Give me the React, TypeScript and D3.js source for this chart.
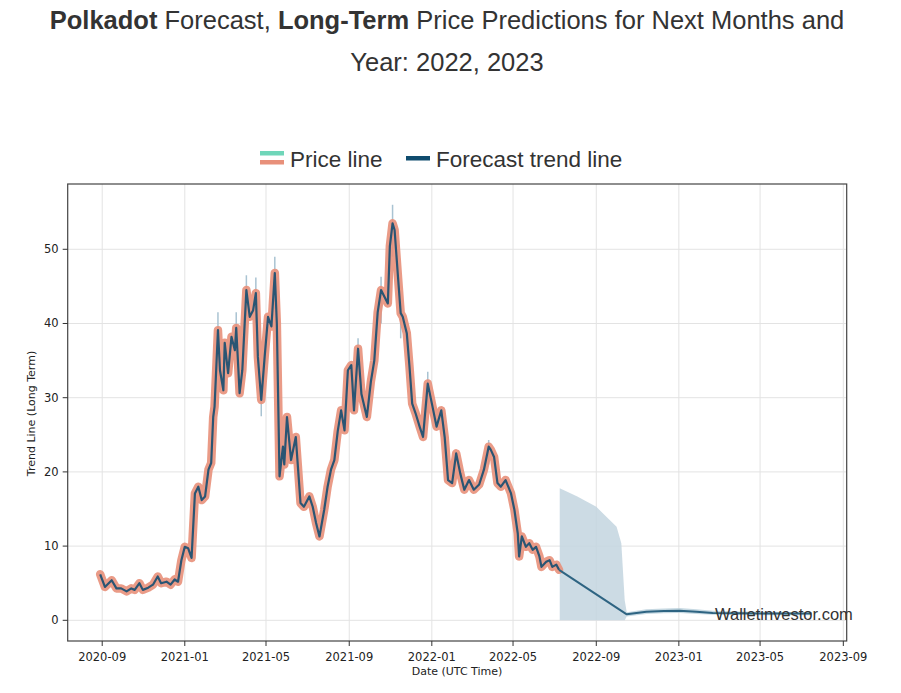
import React from "react";
import * as d3 from "d3";

const priceDates = [
  "2020-08-29","2020-09-05","2020-09-15","2020-09-22","2020-09-29","2020-10-07","2020-10-14","2020-10-19","2020-10-26","2020-10-31",
  "2020-11-08","2020-11-15","2020-11-22","2020-11-27","2020-12-05","2020-12-11","2020-12-17","2020-12-22","2020-12-27","2021-01-01",
  "2021-01-06","2021-01-11","2021-01-16","2021-01-21","2021-01-26","2021-01-31","2021-02-05","2021-02-09","2021-02-12","2021-02-14",
  "2021-02-19","2021-02-22","2021-02-27","2021-03-01","2021-03-06","2021-03-11","2021-03-16","2021-03-18","2021-03-23","2021-03-27",
  "2021-04-02","2021-04-07","2021-04-12","2021-04-16","2021-04-19","2021-04-24","2021-04-29","2021-05-04","2021-05-09","2021-05-14",
  "2021-05-17","2021-05-21","2021-05-26","2021-05-28","2021-06-01","2021-06-07","2021-06-14","2021-06-21","2021-06-26","2021-07-04",
  "2021-07-09","2021-07-14","2021-07-19","2021-07-26","2021-07-31","2021-08-05","2021-08-10","2021-08-15","2021-08-20","2021-08-25",
  "2021-08-30","2021-09-04","2021-09-08","2021-09-14","2021-09-19","2021-09-27","2021-10-03","2021-10-08","2021-10-13","2021-10-18",
  "2021-10-23","2021-10-28","2021-10-31","2021-11-04","2021-11-07","2021-11-12","2021-11-16","2021-11-19","2021-11-25","2021-11-29",
  "2021-12-03","2021-12-08","2021-12-14","2021-12-19","2021-12-26","2022-01-02","2022-01-08","2022-01-15","2022-01-20","2022-01-25",
  "2022-01-31","2022-02-06","2022-02-12","2022-02-18","2022-02-25","2022-03-04","2022-03-12","2022-03-19","2022-03-26","2022-03-29",
  "2022-04-03","2022-04-08","2022-04-13","2022-04-20","2022-04-28","2022-05-03","2022-05-08","2022-05-10","2022-05-14","2022-05-20",
  "2022-05-25","2022-05-30","2022-06-04","2022-06-09","2022-06-12","2022-06-19","2022-06-24","2022-06-28","2022-07-04","2022-07-08"
];
const priceValues = [
  6.2,4.5,5.4,4.3,4.3,3.9,4.3,4.1,5.0,4.1,
  4.4,4.8,5.9,5.0,5.2,4.8,5.5,5.2,8.1,9.9,
  9.7,8.4,17.1,18.0,16.2,16.7,20.3,21.2,27.4,28.8,
  39.1,33.7,31.0,37.4,33.3,38.2,36.4,39.4,30.6,33.7,
  44.5,40.9,41.8,44.1,35.5,29.7,35.5,40.9,39.6,46.8,
  40.0,19.4,23.4,21.0,27.4,21.6,24.7,15.8,15.3,16.7,
  15.3,13.1,11.3,14.9,18.0,20.3,21.6,25.5,28.3,25.6,
  33.7,34.4,28.3,36.6,30.5,27.4,32.2,35.0,41.5,44.5,
  43.6,42.7,50.4,53.5,52.6,46.3,41.4,40.9,38.7,34.2,
  29.2,27.9,26.1,24.7,31.9,28.8,26.1,28.3,24.7,18.9,
  18.5,22.5,19.8,17.6,18.9,17.6,18.3,20.3,23.4,23.0,
  22.0,18.5,18.0,18.9,17.1,14.9,11.7,8.6,11.3,9.9,
  10.4,9.5,9.9,8.6,7.2,7.9,8.1,7.2,7.5,6.8
];

const spikeDates = ["2021-02-19","2021-03-18","2021-04-02","2021-04-16","2021-05-14","2021-09-14","2021-10-18","2021-11-04","2021-11-16","2021-12-26","2022-03-26","2021-04-24","2021-02-22"];
const spikeLow = [36.0,36.0,41.0,40.0,42.0,33.0,40.0,49.0,38.0,28.0,21.0,27.5,31.0];
const spikeHigh = [41.5,41.5,46.5,46.2,49.0,38.0,46.3,56.0,43.0,33.5,24.3,32.0,35.5];

const forecastDates = ["2022-07-08","2022-10-16","2022-11-14","2022-12-10","2023-01-02","2023-01-27","2023-02-20","2023-04-01","2023-05-15","2023-07-16"];
const forecastValues = [6.8,0.8,1.16,1.25,1.3,1.16,1.0,0.95,0.9,0.9];
const forecastUpper = [17.8,1.1,1.5,1.6,1.65,1.5,1.3,1.2,1.15,1.1];
const forecastLower = [0.0,0.5,0.85,0.95,1.0,0.85,0.75,0.7,0.68,0.68];

const bandDates = ["2022-07-09","2022-08-04","2022-09-01","2022-09-11","2022-10-01","2022-10-08","2022-10-13","2022-10-16"];
const bandUpper = [17.8,16.7,15.3,14.4,12.6,10.4,2.7,1.1];
const bandLower = [0,0,0,0,0,0,0,0.5];

const yTicks = [0, 10, 20, 30, 40, 50];
const xTickDates = ["2020-09-01","2021-01-01","2021-05-01","2021-09-01","2022-01-01","2022-05-01","2022-09-01","2023-01-01","2023-05-01","2023-09-01"];

const parse = d3.utcParse("%Y-%m-%d");
const fmt = d3.utcFormat("%Y-%m");

export default function App() {
  const W = 901, H = 693;
  const m = { left: 67.7, right: 846.7, top: 184, bottom: 641 };
  const x = d3.scaleUtc()
    .domain([parse("2020-07-12")!, parse("2023-09-06")!])
    .range([m.left, m.right]);
  const y = d3.scaleLinear().domain([-2.79, 58.8]).range([m.bottom, m.top]);

  const price = priceDates.map((d, i) => ({ d: parse(d)!, v: priceValues[i] }));
  const fc = forecastDates.map((d, i) => ({ d: parse(d)!, v: forecastValues[i], lo: forecastLower[i], hi: forecastUpper[i] }));
  const band = bandDates.map((d, i) => ({ d: parse(d)!, lo: bandLower[i], hi: bandUpper[i] }));
  const fcThin = fc.slice(1);

  const line = d3.line<{ d: Date; v: number }>().x(p => x(p.d)).y(p => y(p.v)).curve(d3.curveLinear);
  const area = d3.area<{ d: Date; lo: number; hi: number }>().x(p => x(p.d)).y0(p => y(p.lo)).y1(p => y(p.hi));

  const font = "'DejaVu Sans', sans-serif";
  const titleFont = "'Liberation Sans', Arial, sans-serif";

  return (
    <svg width={W} height={H} style={{ position: "absolute", left: 0, top: 0, background: "#fff" }}>
      <rect x={0} y={0} width={W} height={H} fill="#fff" />
      <text x={447} y={29} textAnchor="middle" fontFamily={titleFont} fontSize={25.5} fill="#333">
        <tspan fontWeight="bold">Polkadot</tspan> Forecast, <tspan fontWeight="bold">Long-Term</tspan> Price Predictions for Next Months and
      </text>
      <text x={447} y={71} textAnchor="middle" fontFamily={titleFont} fontSize={25.5} fill="#333">
        Year: 2022, 2023
      </text>

      {/* legend */}
      <rect x={260} y={151} width={24} height={4.5} fill="#6fd6b9" />
      <rect x={260} y={160} width={24} height={4.5} fill="#e8907a" />
      <text x={290} y={167} fontFamily={titleFont} fontSize={22.5} fill="#333">Price line</text>
      <rect x={406} y={156} width={24} height={4.5} fill="#0f4c6e" />
      <text x={436} y={167} fontFamily={titleFont} fontSize={22.5} fill="#333">Forecast trend line</text>

      {/* grid */}
      {yTicks.map(t => (
        <line key={"gy" + t} x1={m.left} x2={m.right} y1={y(t)} y2={y(t)} stroke="#e3e3e3" strokeWidth={1} />
      ))}
      {xTickDates.map(t => (
        <line key={"gx" + t} x1={x(parse(t)!)} x2={x(parse(t)!)} y1={m.top} y2={m.bottom} stroke="#e3e3e3" strokeWidth={1} />
      ))}

      {/* forecast band */}
      <path d={area(band) || ""} fill="#c3d5df" opacity={0.85} />
      <path d={area(fcThin) || ""} fill="#b9cfdb" opacity={0.8} />

      {/* spikes */}
      {spikeDates.map((d, i) => (
        <line key={"s" + i} x1={x(parse(d)!)} x2={x(parse(d)!)} y1={y(spikeLow[i])} y2={y(spikeHigh[i])} stroke="#a9c3d2" strokeWidth={1.5} />
      ))}

      {/* price line */}
      <path d={line(price) || ""} fill="none" stroke="#e8907a" strokeWidth={8.5} strokeLinejoin="round" strokeLinecap="round" opacity={0.9} />
      <path d={line(price) || ""} fill="none" stroke="#2a5573" strokeWidth={2.2} strokeLinejoin="round" />
      <path d={line(fc.map(p => ({ d: p.d, v: p.v }))) || ""} fill="none" stroke="#2e6482" strokeWidth={2} strokeLinejoin="round" />

      {/* frame */}
      <rect x={m.left} y={m.top} width={m.right - m.left} height={m.bottom - m.top} fill="none" stroke="#444" strokeWidth={1.2} />

      {/* y axis */}
      {yTicks.map(t => (
        <g key={"yt" + t}>
          <line x1={m.left - 5} x2={m.left} y1={y(t)} y2={y(t)} stroke="#333" />
          <text x={m.left - 9} y={y(t) + 4} textAnchor="end" fontFamily={font} fontSize={11.5} fill="#222">{t}</text>
        </g>
      ))}
      {/* x axis */}
      {xTickDates.map(t => (
        <g key={"xt" + t}>
          <line x1={x(parse(t)!)} x2={x(parse(t)!)} y1={m.bottom} y2={m.bottom + 5} stroke="#333" />
          <text x={x(parse(t)!)} y={m.bottom + 20} textAnchor="middle" fontFamily={font} fontSize={11.5} fill="#222">{fmt(parse(t)!)}</text>
        </g>
      ))}
      <text x={457} y={675} textAnchor="middle" fontFamily={font} fontSize={11} fill="#222">Date (UTC Time)</text>
      <text transform={`translate(35,${(m.top + m.bottom) / 2 + 1}) rotate(-90)`} textAnchor="middle" fontFamily={font} fontSize={11} fill="#222">Trend Line (Long Term)</text>

      {/* watermark */}
      <text x={715} y={620} fontFamily={titleFont} fontSize={16.5} fill="#333">Walletinvestor.com</text>
    </svg>
  );
}
